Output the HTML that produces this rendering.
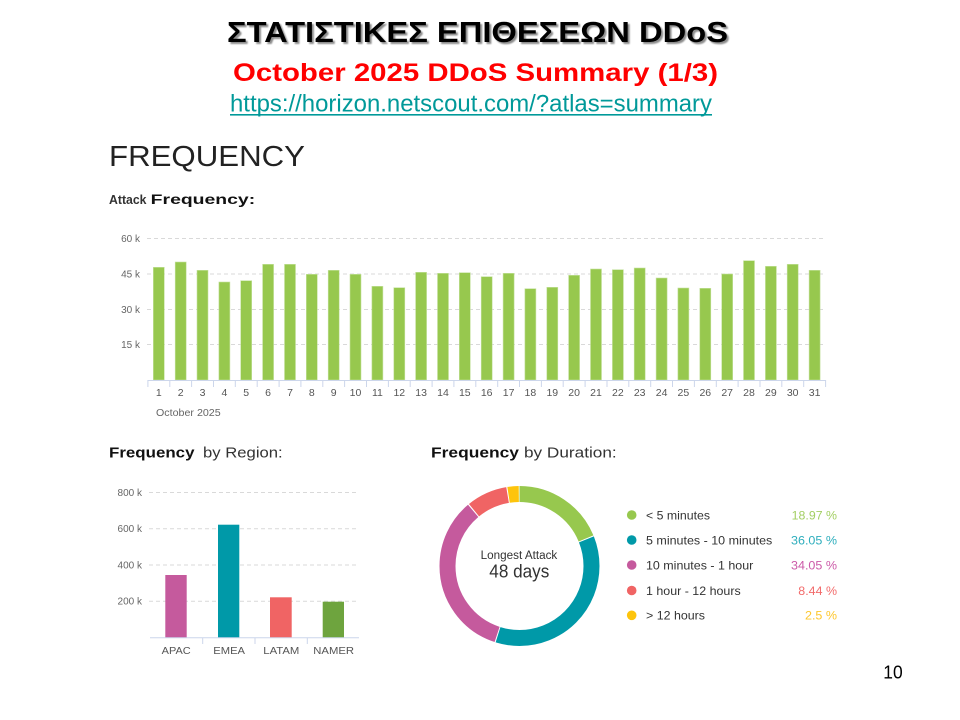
<!DOCTYPE html>
<html>
<head>
<meta charset="utf-8">
<style>
html,body{margin:0;padding:0;background:#fff;}
svg{display:block;}
text{font-family:"Liberation Sans",Arial,sans-serif;}
</style>
</head>
<body>
<svg width="960" height="720" viewBox="0 0 960 720" xmlns="http://www.w3.org/2000/svg">
<defs>
<filter id="sh" x="-5%" y="-20%" width="110%" height="150%">
<feGaussianBlur in="SourceAlpha" stdDeviation="0.9"/>
<feOffset dx="2" dy="2" result="o"/>
<feComponentTransfer><feFuncA type="linear" slope="0.45"/></feComponentTransfer>
<feMerge><feMergeNode/><feMergeNode in="SourceGraphic"/></feMerge>
</filter>
</defs>
<rect width="960" height="720" fill="#fff"/>

<!-- Header -->
<text x="227" y="42" font-size="29" font-weight="bold" fill="#000" filter="url(#sh)" textLength="501" lengthAdjust="spacingAndGlyphs">ΣΤΑΤΙΣΤΙΚΕΣ ΕΠΙΘΕΣΕΩΝ  DDoS</text>
<text x="233" y="81" font-size="25" font-weight="bold" fill="#ff0000" textLength="485" lengthAdjust="spacingAndGlyphs">October 2025 DDoS Summary (1/3)</text>
<text x="230" y="111.5" font-size="24" fill="#009999" textLength="482" lengthAdjust="spacingAndGlyphs">https://horizon.netscout.com/?atlas=summary</text>
<rect x="230" y="114" width="482" height="1.6" fill="#009999"/>

<!-- FREQUENCY -->
<text x="109" y="166" font-size="29" fill="#222" textLength="196" lengthAdjust="spacingAndGlyphs">FREQUENCY</text>
<text x="109" y="204" font-size="13" font-weight="bold" fill="#333" textLength="37.5" lengthAdjust="spacingAndGlyphs">Attack</text>
<text x="150.7" y="204" font-size="13.5" font-weight="bold" fill="#111" textLength="104.5" lengthAdjust="spacingAndGlyphs">Frequency:</text>

<!-- Attack frequency chart -->
<g stroke="#d9d9d9" stroke-width="1" stroke-dasharray="4,3">
<line x1="147" y1="238.5" x2="825" y2="238.5"/>
<line x1="147" y1="274" x2="825" y2="274"/>
<line x1="147" y1="309.5" x2="825" y2="309.5"/>
<line x1="147" y1="344.5" x2="825" y2="344.5"/>
</g>
<g font-size="10" fill="#666" text-anchor="end">
<text x="140" y="242">60 k</text>
<text x="140" y="277.5">45 k</text>
<text x="140" y="313">30 k</text>
<text x="140" y="348">15 k</text>
</g>
<g fill="#97c84e" stroke="#c6e2a0" stroke-width="0.6">
<rect x="153.3" y="267.3" width="11" height="112.7"/>
<rect x="175.2" y="262" width="11" height="118"/>
<rect x="197.0" y="270.3" width="11" height="109.7"/>
<rect x="218.9" y="282" width="11" height="98"/>
<rect x="240.7" y="280.7" width="11" height="99.3"/>
<rect x="262.6" y="264.3" width="11" height="115.7"/>
<rect x="284.5" y="264.3" width="11" height="115.7"/>
<rect x="306.3" y="274.3" width="11" height="105.7"/>
<rect x="328.2" y="270.3" width="11" height="109.7"/>
<rect x="350.0" y="274.3" width="11" height="105.7"/>
<rect x="371.9" y="286.3" width="11" height="93.7"/>
<rect x="393.8" y="287.7" width="11" height="92.3"/>
<rect x="415.6" y="272.3" width="11" height="107.7"/>
<rect x="437.5" y="273.3" width="11" height="106.7"/>
<rect x="459.3" y="272.7" width="11" height="107.3"/>
<rect x="481.2" y="276.7" width="11" height="103.3"/>
<rect x="503.1" y="273.3" width="11" height="106.7"/>
<rect x="524.9" y="288.7" width="11" height="91.3"/>
<rect x="546.8" y="287.3" width="11" height="92.7"/>
<rect x="568.6" y="275.3" width="11" height="104.7"/>
<rect x="590.5" y="269" width="11" height="111"/>
<rect x="612.4" y="269.7" width="11" height="110.3"/>
<rect x="634.2" y="268" width="11" height="112"/>
<rect x="656.1" y="278" width="11" height="102"/>
<rect x="677.9" y="288" width="11" height="92"/>
<rect x="699.8" y="288.3" width="11" height="91.7"/>
<rect x="721.7" y="274" width="11" height="106"/>
<rect x="743.5" y="260.7" width="11" height="119.3"/>
<rect x="765.4" y="266.3" width="11" height="113.7"/>
<rect x="787.2" y="264.3" width="11" height="115.7"/>
<rect x="809.1" y="270.3" width="11" height="109.7"/>
</g>
<line x1="147.9" y1="380.5" x2="825.6" y2="380.5" stroke="#ccd6eb" stroke-width="1"/>
<g stroke="#ccd6eb" stroke-width="1">
<line x1="147.9" y1="380" x2="147.9" y2="387"/><line x1="169.8" y1="380" x2="169.8" y2="387"/><line x1="191.6" y1="380" x2="191.6" y2="387"/><line x1="213.5" y1="380" x2="213.5" y2="387"/><line x1="235.3" y1="380" x2="235.3" y2="387"/><line x1="257.2" y1="380" x2="257.2" y2="387"/><line x1="279.1" y1="380" x2="279.1" y2="387"/><line x1="300.9" y1="380" x2="300.9" y2="387"/><line x1="322.8" y1="380" x2="322.8" y2="387"/><line x1="344.6" y1="380" x2="344.6" y2="387"/><line x1="366.5" y1="380" x2="366.5" y2="387"/><line x1="388.4" y1="380" x2="388.4" y2="387"/><line x1="410.2" y1="380" x2="410.2" y2="387"/><line x1="432.1" y1="380" x2="432.1" y2="387"/><line x1="453.9" y1="380" x2="453.9" y2="387"/><line x1="475.8" y1="380" x2="475.8" y2="387"/><line x1="497.7" y1="380" x2="497.7" y2="387"/><line x1="519.5" y1="380" x2="519.5" y2="387"/><line x1="541.4" y1="380" x2="541.4" y2="387"/><line x1="563.2" y1="380" x2="563.2" y2="387"/><line x1="585.1" y1="380" x2="585.1" y2="387"/><line x1="607.0" y1="380" x2="607.0" y2="387"/><line x1="628.8" y1="380" x2="628.8" y2="387"/><line x1="650.7" y1="380" x2="650.7" y2="387"/><line x1="672.5" y1="380" x2="672.5" y2="387"/><line x1="694.4" y1="380" x2="694.4" y2="387"/><line x1="716.3" y1="380" x2="716.3" y2="387"/><line x1="738.1" y1="380" x2="738.1" y2="387"/><line x1="760.0" y1="380" x2="760.0" y2="387"/><line x1="781.8" y1="380" x2="781.8" y2="387"/><line x1="803.7" y1="380" x2="803.7" y2="387"/><line x1="825.6" y1="380" x2="825.6" y2="387"/>
</g>
<g font-size="10.5" fill="#555" text-anchor="middle">
<text x="158.8" y="396">1</text><text x="180.7" y="396">2</text><text x="202.5" y="396">3</text><text x="224.4" y="396">4</text><text x="246.2" y="396">5</text><text x="268.1" y="396">6</text><text x="290.0" y="396">7</text><text x="311.8" y="396">8</text><text x="333.7" y="396">9</text><text x="355.5" y="396">10</text><text x="377.4" y="396">11</text><text x="399.3" y="396">12</text><text x="421.1" y="396">13</text><text x="443.0" y="396">14</text><text x="464.8" y="396">15</text><text x="486.7" y="396">16</text><text x="508.6" y="396">17</text><text x="530.4" y="396">18</text><text x="552.3" y="396">19</text><text x="574.1" y="396">20</text><text x="596.0" y="396">21</text><text x="617.9" y="396">22</text><text x="639.7" y="396">23</text><text x="661.6" y="396">24</text><text x="683.4" y="396">25</text><text x="705.3" y="396">26</text><text x="727.2" y="396">27</text><text x="749.0" y="396">28</text><text x="770.9" y="396">29</text><text x="792.7" y="396">30</text><text x="814.6" y="396">31</text>
</g>
<text x="156" y="416" font-size="10" fill="#666" textLength="64.7" lengthAdjust="spacingAndGlyphs">October 2025</text>

<!-- Frequency by Region -->
<text x="109" y="457.5" font-size="14.5" font-weight="bold" fill="#111" textLength="85.5" lengthAdjust="spacingAndGlyphs">Frequency</text>
<text x="203" y="457.5" font-size="14.5" fill="#333" textLength="79.7" lengthAdjust="spacingAndGlyphs">by Region:</text>
<g stroke="#d9d9d9" stroke-width="1" stroke-dasharray="4,3">
<line x1="149" y1="492.5" x2="359" y2="492.5"/>
<line x1="149" y1="528.75" x2="359" y2="528.75"/>
<line x1="149" y1="565" x2="359" y2="565"/>
<line x1="149" y1="601.25" x2="359" y2="601.25"/>
</g>
<g font-size="10" fill="#666" text-anchor="end">
<text x="142" y="496">800 k</text>
<text x="142" y="532">600 k</text>
<text x="142" y="568.5">400 k</text>
<text x="142" y="604.5">200 k</text>
</g>
<rect x="165.3" y="575" width="21.4" height="62.5" fill="#c55a9d"/>
<rect x="218" y="524.7" width="21.3" height="112.8" fill="#0099a8"/>
<rect x="270" y="597.3" width="21.7" height="40.2" fill="#f06464"/>
<rect x="322.7" y="601.7" width="21.3" height="35.8" fill="#6ea43e"/>
<line x1="150" y1="637.8" x2="359" y2="637.8" stroke="#ccd6eb" stroke-width="1"/>
<g stroke="#ccd6eb" stroke-width="1">
<line x1="202.7" y1="637.5" x2="202.7" y2="644"/>
<line x1="255" y1="637.5" x2="255" y2="644"/>
<line x1="307.3" y1="637.5" x2="307.3" y2="644"/>
</g>
<g font-size="10.5" fill="#555">
<text x="161.7" y="654" textLength="29" lengthAdjust="spacingAndGlyphs">APAC</text>
<text x="213.3" y="654" textLength="31.7" lengthAdjust="spacingAndGlyphs">EMEA</text>
<text x="263.3" y="654" textLength="36" lengthAdjust="spacingAndGlyphs">LATAM</text>
<text x="313.3" y="654" textLength="40.7" lengthAdjust="spacingAndGlyphs">NAMER</text>
</g>

<!-- Frequency by Duration -->
<text x="431" y="457.5" font-size="14.5" font-weight="bold" fill="#111" textLength="88" lengthAdjust="spacingAndGlyphs">Frequency</text>
<text x="524" y="457.5" font-size="14.5" fill="#333" textLength="92.7" lengthAdjust="spacingAndGlyphs">by Duration:</text>

<g transform="rotate(-90 519.5 566)" fill="none" stroke-width="16">
<circle cx="519.5" cy="566" r="72" stroke="#97c84e" stroke-dasharray="84.8 1000" stroke-dashoffset="0"/>
<circle cx="519.5" cy="566" r="72" stroke="#0099a8" stroke-dasharray="162.1 1000" stroke-dashoffset="-85.8"/>
<circle cx="519.5" cy="566" r="72" stroke="#c55a9d" stroke-dasharray="153.0 1000" stroke-dashoffset="-248.9"/>
<circle cx="519.5" cy="566" r="72" stroke="#f06464" stroke-dasharray="37.2 1000" stroke-dashoffset="-403.0"/>
<circle cx="519.5" cy="566" r="72" stroke="#fdc40c" stroke-dasharray="10.3 1000" stroke-dashoffset="-441.2"/>
</g>
<text x="480.7" y="559" font-size="11.5" fill="#333" textLength="76.6" lengthAdjust="spacingAndGlyphs">Longest Attack</text>
<text x="489.3" y="577.7" font-size="18.5" fill="#333" textLength="60" lengthAdjust="spacingAndGlyphs">48 days</text>

<g>
<circle cx="631.7" cy="515" r="4.8" fill="#97c84e"/>
<circle cx="631.7" cy="540" r="4.8" fill="#0099a8"/>
<circle cx="631.7" cy="565" r="4.8" fill="#c55a9d"/>
<circle cx="631.7" cy="590.5" r="4.8" fill="#f06464"/>
<circle cx="631.7" cy="615.3" r="4.8" fill="#fdc40c"/>
</g>
<g font-size="12" fill="#333">
<text x="646" y="519.3" textLength="64" lengthAdjust="spacingAndGlyphs">&lt; 5 minutes</text>
<text x="646" y="544.3" textLength="126.3" lengthAdjust="spacingAndGlyphs">5 minutes - 10 minutes</text>
<text x="646" y="569.3" textLength="107.3" lengthAdjust="spacingAndGlyphs">10 minutes - 1 hour</text>
<text x="646" y="594.8" textLength="94.7" lengthAdjust="spacingAndGlyphs">1 hour - 12 hours</text>
<text x="646" y="619.6" textLength="59" lengthAdjust="spacingAndGlyphs">&gt; 12 hours</text>
</g>
<g font-size="12">
<text x="791.7" y="519.3" fill="#a3cf63" textLength="45.3" lengthAdjust="spacingAndGlyphs">18.97 %</text>
<text x="791" y="544.3" fill="#2eaebd" textLength="46" lengthAdjust="spacingAndGlyphs">36.05 %</text>
<text x="791" y="569.3" fill="#cc5aa8" textLength="46" lengthAdjust="spacingAndGlyphs">34.05 %</text>
<text x="798.3" y="594.8" fill="#f26b6b" textLength="38.7" lengthAdjust="spacingAndGlyphs">8.44 %</text>
<text x="805" y="619.6" fill="#fdc72e" textLength="32" lengthAdjust="spacingAndGlyphs">2.5 %</text>
</g>

<!-- page number -->
<text x="883.3" y="678.3" font-size="18.5" fill="#000" textLength="19.4" lengthAdjust="spacingAndGlyphs">10</text>
</svg>
</body>
</html>
